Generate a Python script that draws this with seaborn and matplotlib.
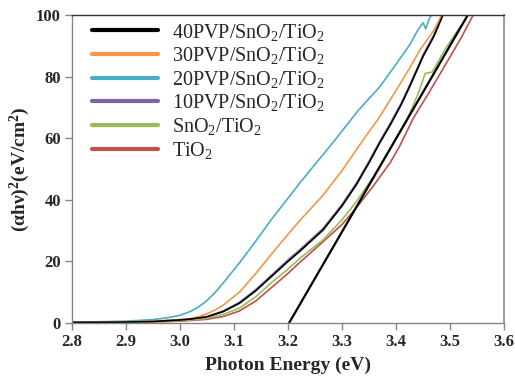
import matplotlib
matplotlib.use("Agg")
import matplotlib.pyplot as plt
import seaborn as sns

# ---------------- data ----------------
labels = ["40PVP/SnO$_2$/TiO$_2$", "30PVP/SnO$_2$/TiO$_2$", "20PVP/SnO$_2$/TiO$_2$",
          "10PVP/SnO$_2$/TiO$_2$", "SnO$_2$/TiO$_2$", "TiO$_2$"]
colors = ["#000000", "#F79646", "#4BACC6", "#8064A2", "#9BBB59", "#C0504D"]

x_40 = [2.8, 2.9, 2.95, 2.98, 3.0, 3.02, 3.05, 3.08, 3.11, 3.14, 3.17, 3.2, 3.222, 3.265, 3.3,
        3.327, 3.35, 3.37, 3.39, 3.41, 3.426, 3.45, 3.47, 3.487]
y_40 = [0.2, 0.3, 0.5, 0.8, 1.0, 1.3, 2.0, 3.7, 6.4, 10.4, 15.2, 20.0, 23.3, 30.2, 38.0,
        45.0, 52.0, 58.5, 64.5, 71.0, 77.0, 86.5, 93.0, 100]

x_30 = [2.8, 2.85, 2.9, 2.95, 2.98, 3.0, 3.02, 3.035, 3.05, 3.065, 3.08, 3.11, 3.14, 3.17, 3.2, 3.222,
        3.265, 3.3, 3.339, 3.37, 3.4, 3.426, 3.444, 3.47, 3.485]
y_30 = [0.2, 0.25, 0.35, 0.6, 0.9, 1.1, 1.5, 2.1, 3.0, 4.2, 5.8, 10.0, 16.0, 22.5, 28.8, 33.3,
        41.5, 49.5, 59.4, 67.0, 75.5, 83.0, 88.6, 95.0, 100]

x_20 = [2.8, 2.85, 2.9, 2.95, 2.98, 3.0, 3.02, 3.035, 3.05, 3.065, 3.08, 3.11, 3.14, 3.17, 3.2, 3.222,
        3.25, 3.287, 3.33, 3.37, 3.4, 3.426, 3.44, 3.45, 3.455, 3.462, 3.466]
y_20 = [0.3, 0.4, 0.6, 1.1, 1.8, 2.5, 3.8, 5.3, 7.3, 9.9, 13.0, 19.5, 26.5, 33.8, 40.5, 45.5,
        51.5, 59.4, 69.0, 76.7, 84.0, 90.5, 95.0, 97.5, 95.5, 99.0, 100]

x_10 = [2.8, 2.9, 2.95, 2.98, 3.0, 3.02, 3.05, 3.08, 3.11, 3.14, 3.17, 3.2, 3.222, 3.265, 3.3,
        3.327, 3.35, 3.37, 3.39, 3.41, 3.426, 3.45, 3.47, 3.485]
y_10 = [0.2, 0.3, 0.5, 0.8, 1.0, 1.3, 2.1, 3.9, 6.7, 10.8, 15.6, 20.5, 23.8, 30.7, 38.5,
        45.5, 52.5, 59.0, 65.0, 71.5, 77.5, 87.0, 93.5, 100]

x_sn = [2.8, 2.9, 2.95, 3.0, 3.05, 3.08, 3.11, 3.14, 3.17, 3.2, 3.222, 3.265, 3.3, 3.327, 3.358,
        3.38, 3.4, 3.42, 3.44, 3.454, 3.467, 3.494, 3.52]
y_sn = [0.2, 0.3, 0.4, 0.7, 1.5, 2.8, 4.8, 8.5, 13.2, 17.5, 21.0, 27.0, 33.5, 39.5, 47.5,
        54.0, 60.0, 66.0, 74.0, 81.0, 81.5, 89.7, 96.5]

x_ti = [2.8, 2.9, 2.95, 3.0, 3.05, 3.08, 3.11, 3.14, 3.17, 3.2, 3.222, 3.265, 3.3, 3.327, 3.358,
        3.389, 3.407, 3.432, 3.46, 3.494, 3.52, 3.543]
y_ti = [0.1, 0.2, 0.3, 0.6, 1.2, 2.1, 3.9, 7.1, 11.6, 16.1, 19.7, 26.4, 32.0, 37.5, 44.5,
        52.0, 57.5, 66.5, 74.5, 84.6, 92.4, 100]

tangent_x = [3.202, 3.533]
tangent_y = [0, 100]

xticks = [2.8, 2.9, 3.0, 3.1, 3.2, 3.3, 3.4, 3.5, 3.6]
yticks = [0, 20, 40, 60, 80, 100]

# ---------------- style ----------------
sns.set_theme(style="white")
plt.rcParams["font.family"] = ["Liberation Serif", "DejaVu Serif"]
plt.rcParams["mathtext.fontset"] = "custom"
plt.rcParams["mathtext.rm"] = "Liberation Serif"
plt.rcParams["mathtext.it"] = "Liberation Serif:italic"
plt.rcParams["mathtext.bf"] = "Liberation Serif:bold"

fig = plt.figure(figsize=(5.15, 3.78), dpi=100)
ax = fig.add_axes([72 / 515, 1 - 323 / 378, (504 - 72) / 515, (323 - 15) / 378])

series = [(x_ti, y_ti, 5), (x_sn, y_sn, 4), (x_10, y_10, 3), (x_20, y_20, 2), (x_30, y_30, 1), (x_40, y_40, 0)]
for xs, ys, i in series:
    sns.lineplot(x=xs, y=ys, ax=ax, color=colors[i], linewidth=1.2, label=labels[i],
                 estimator=None, sort=False)
sns.lineplot(x=tangent_x, y=tangent_y, ax=ax, color="black", linewidth=1.6,
             estimator=None, sort=False, legend=False)

ax.set_xlim(2.8, 3.6)
ax.set_ylim(0, 100)
ax.set_xticks(xticks)
ax.set_yticks(yticks)
ax.set_xticklabels([f"{v:.1f}" for v in xticks], fontweight="bold", fontsize=12)
ax.set_yticklabels([str(v) for v in yticks], fontweight="bold", fontsize=12)
ax.tick_params(axis="both", direction="out", length=5, width=1, color="#868686", pad=3, bottom=True, left=True)
ax.set_xlabel("Photon Energy (eV)", fontweight="bold", fontsize=14, labelpad=5)
ax.set_ylabel("(αhν)$^{\\mathbf{2}}$(eV/cm$^{\\mathbf{2}}$)", fontweight="bold", fontsize=14, labelpad=3)

for s in ["left", "bottom"]:
    ax.spines[s].set_color("#868686")
    ax.spines[s].set_linewidth(1.0)
ax.spines["top"].set_color("#333333")
ax.spines["top"].set_linewidth(1.0)
ax.spines["right"].set_color("#A0A0A0")
ax.spines["right"].set_linewidth(1.5)

handles, labs = ax.get_legend_handles_labels()
order = [labs.index(l) for l in labels]
leg = ax.legend([handles[k] for k in order], [labs[k] for k in order],
                loc="upper left", bbox_to_anchor=(0.028, 1.005), frameon=False,
                fontsize=14.5, handlelength=3.28, labelspacing=0.13, handletextpad=0.7,
                borderaxespad=0.0)
for h in leg.legend_handles:
    h.set_linewidth(3)

fig.savefig("out.png", dpi=100)
